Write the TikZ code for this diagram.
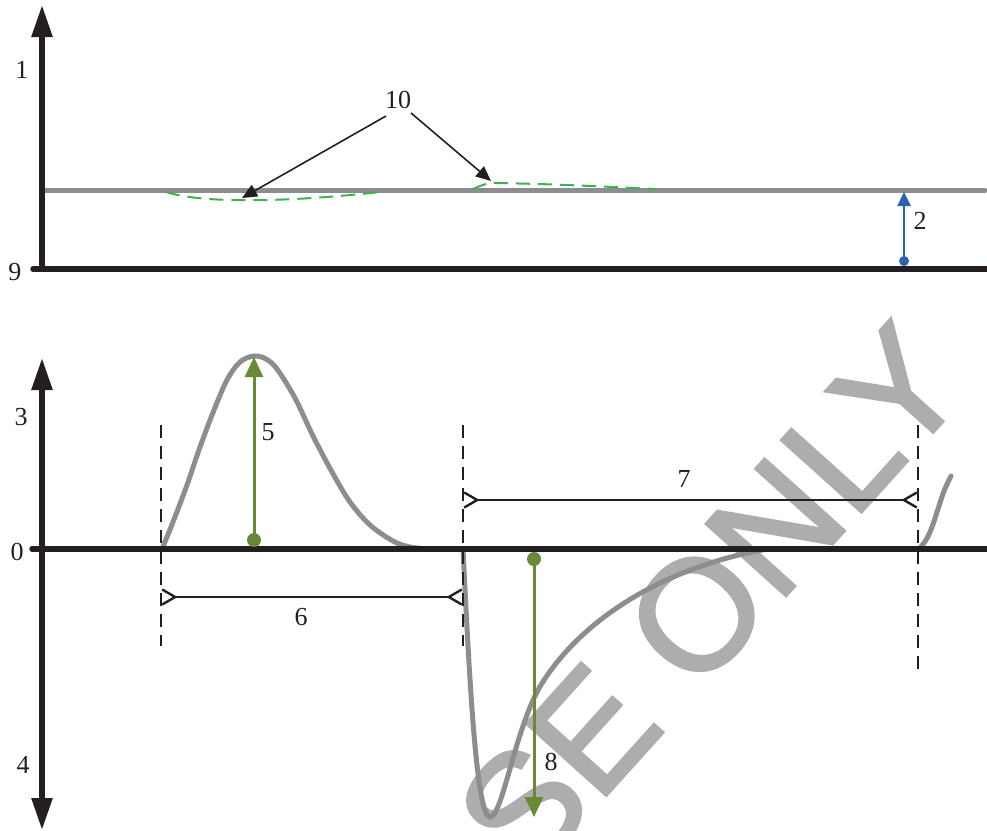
\documentclass[tikz,border=0pt]{standalone}
\usepackage{fontspec}
\usepackage{xcolor}
\usepackage{tikz}
\usetikzlibrary{arrows.meta}
\newfontfamily\wmfont[FakeBold=2]{Liberation Sans}
\newfontfamily\lblfont{Liberation Serif}
\definecolor{axisblack}{HTML}{231F20}
\definecolor{curvegray}{HTML}{8B8D91}
\definecolor{wmgray}{HTML}{ADADAD}
\definecolor{dashgreen}{HTML}{3AB54A}
\definecolor{olive}{HTML}{688935}
\definecolor{levelblue}{HTML}{2C62AC}
\tikzset{
  axis/.style={draw=axisblack, line width=5.5pt, line cap=round},
  axtip/.style={-{Triangle[length=32pt,width=20pt]}},
  lbl/.style={font=\lblfont\fontsize{26}{30}\selectfont, text=axisblack, inner sep=0pt},
  pulse/.style={draw=curvegray, line width=5pt, line cap=round},
  guide/.style={draw=axisblack, line width=1.5pt, dash pattern=on 13pt off 8pt},
  dimline/.style={draw=axisblack, line width=2.2pt,
    {Straight Barb[reversed,length=13pt,width=15pt,line width=2.4pt]}-{Straight Barb[reversed,length=13pt,width=15pt,line width=2.4pt]}},
  callout/.style={draw=axisblack, line width=1.6pt, -{Triangle[length=15pt,width=13pt]}},
  amp/.style={draw=olive, line width=3pt, -{Triangle[length=20pt,width=18pt]}},
  wmark/.style={font=\wmfont\fontsize{156}{156}\selectfont, text=wmgray, inner sep=0pt}
}
\begin{document}
\begin{tikzpicture}[x=1pt,y=-1pt]
\useasboundingbox (0,0) rectangle (987,830);
\clip (0,0) rectangle (987,830);
% watermark
\node[wmark, rotate=48, anchor=base east] (wm) at (973,388) {SE ONLY};
% top panel
\draw[draw=curvegray, line width=5pt, line cap=round] (45,190.5) -- (985,190.5);
\draw[dashgreen, line width=2pt, dash pattern=on 14pt off 8pt]
  (166,192) .. controls (200,203) and (280,203) .. (380,192);
\draw[dashgreen, line width=2pt, dash pattern=on 14pt off 8pt]
  (473,189) .. controls (480,186) and (486,183) .. (493,183)
  .. controls (560,184) and (610,187) .. (655,189);
\draw[axis] (33,269) -- (987,269);
\draw[axis, line cap=butt, axtip] (42,269) -- (42,5);
\node[lbl] (l1) at (22,70) {1};
\node[lbl] (l9) at (15,272) {9};
\node[lbl] (l10) at (398,100) {10};
\coordinate (dipA) at (242,198);
\coordinate (bumpB) at (491,181);
\draw[callout] (386,116) -- (dipA);
\draw[callout] (411,113) -- (bumpB);
\coordinate (s0) at (904,261);
\coordinate (s1) at (904,192);
\fill[levelblue] (s0) circle (5pt);
\draw[levelblue, line width=2.5pt, -{Triangle[length=14pt,width=13pt]}] (s0) -- (s1);
\node[lbl] (l2) at (920,221) {2};
% bottom panel
\draw[pulse] plot[smooth, tension=0.55] coordinates {
  (162,549) (173,522) (187,485) (200,447) (214,410) (227,380) (240,362)
  (254,356) (266,359) (277,369) (295,398) (313,436) (332,472) (350,502)
  (370,525) (393,541) (410,547) (430,549)};
\draw[pulse] (463,549) .. controls (469,670) and (476,817) .. (490,817)
  .. controls (502,817) and (514,735) .. (538,690)
  .. controls (572,630) and (650,570) .. (767,549) -- (800,549);
\draw[pulse] plot[smooth, tension=0.6] coordinates {
  (919,549) (926,540) (932,527) (938,509) (944,491) (951,476)};
\draw[axis] (32,549) -- (987,549);
\draw[axis, line cap=butt, {Triangle[length=32pt,width=20pt]}-{Triangle[length=32pt,width=20pt]}] (42,830) -- (42,358);
\node[lbl] (l3) at (21,417) {3};
\node[lbl] (l0) at (17,552) {0};
\node[lbl] (l4) at (23,765) {4};
% guides and spans
\draw[guide] (161,425) -- (161,646);
\draw[guide] (463,425) -- (463,646);
\draw[guide] (918,425) -- (918,670);
\coordinate (w0) at (161,597);
\coordinate (w1) at (463,597);
\coordinate (g0) at (463,500);
\coordinate (g1) at (918,500);
\draw[dimline] (w0) -- (w1);
\draw[dimline] (g0) -- (g1);
\node[lbl] (l6) at (301,617) {6};
\node[lbl] (l7) at (684,479) {7};
% amplitudes
\coordinate (p0) at (254,540);
\coordinate (p1) at (254,357);
\coordinate (n0) at (534,559);
\coordinate (n1) at (534,817);
\fill[olive] (p0) circle (7pt);
\fill[olive] (n0) circle (7pt);
\draw[amp] (p0) -- (p1);
\draw[amp] (n0) -- (n1);
\node[lbl] (l5) at (268,432) {5};
\node[lbl] (l8) at (551,762) {8};
\end{tikzpicture}
\end{document}
